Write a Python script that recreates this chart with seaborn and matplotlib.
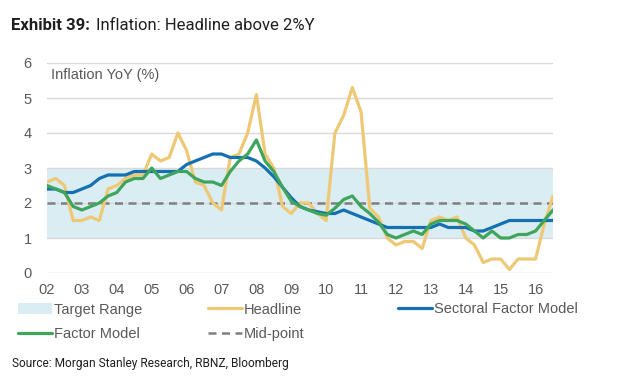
import matplotlib
matplotlib.use("Agg")
import matplotlib.pyplot as plt
from matplotlib.lines import Line2D
from matplotlib.patches import Patch
import seaborn as sns
import numpy as np
import pandas as pd

# Quarterly YoY inflation, 2002Q1 .. 2016Q3
headline = [2.6, 2.7, 2.5, 1.5, 1.5, 1.6, 1.5, 2.4, 2.5, 2.7, 2.8, 2.8,
            3.4, 3.2, 3.3, 4.0, 3.5, 2.6, 2.5, 2.0, 1.8, 3.3, 3.4, 4.0,
            5.1, 3.4, 3.0, 1.9, 1.7, 2.0, 2.0, 1.7, 1.5, 4.0, 4.5, 5.3,
            4.6, 1.85, 1.6, 1.0, 0.8, 0.9, 0.9, 0.7, 1.5, 1.6, 1.5, 1.6,
            1.0, 0.8, 0.3, 0.4, 0.4, 0.1, 0.4, 0.4, 0.4, 1.4, 2.2]
sectoral = [2.4, 2.4, 2.3, 2.3, 2.4, 2.5, 2.7, 2.8, 2.8, 2.8, 2.9, 2.9,
            2.9, 2.9, 2.9, 2.9, 3.1, 3.2, 3.3, 3.4, 3.4, 3.3, 3.3, 3.3,
            3.2, 3.0, 2.75, 2.45, 2.15, 1.9, 1.8, 1.75, 1.7, 1.7, 1.8, 1.7,
            1.6, 1.5, 1.4, 1.3, 1.3, 1.3, 1.3, 1.3, 1.3, 1.4, 1.3, 1.3,
            1.3, 1.2, 1.2, 1.3, 1.4, 1.5, 1.5, 1.5, 1.5, 1.5, 1.5]
factor = [2.5, 2.4, 2.3, 1.9, 1.8, 1.9, 2.0, 2.2, 2.3, 2.6, 2.7, 2.7,
          3.0, 2.7, 2.8, 2.9, 2.9, 2.7, 2.6, 2.6, 2.5, 2.9, 3.2, 3.4,
          3.8, 3.2, 2.9, 2.45, 2.05, 1.9, 1.8, 1.7, 1.65, 1.85, 2.1, 2.2,
          1.9, 1.7, 1.45, 1.1, 1.0, 1.1, 1.2, 1.1, 1.4, 1.5, 1.5, 1.5,
          1.4, 1.2, 1.0, 1.2, 1.0, 1.0, 1.1, 1.1, 1.2, 1.5, 1.8]
target_low, target_high, mid_point = 1, 3, 2
year_ticks = list(range(2002, 2017))
year_labels = [f"{y % 100:02d}" for y in year_ticks]

quarters = 2002 + 0.25 * np.arange(len(headline))
df = pd.DataFrame({"date": quarters, "Headline": headline,
                   "Sectoral Factor Model": sectoral, "Factor Model": factor})

c_band = "#daedf3"
c_head = "#efc875"
c_sect = "#1470b0"
c_fact = "#40a55c"
c_mid = "#7f7f7f"
c_text = "#595959"

sns.set_theme(style="white")
plt.rcParams["font.family"] = ["Liberation Sans", "DejaVu Sans"]
title_font = ["Roboto", "DejaVu Sans"]

fig = plt.figure(figsize=(6.18, 3.87), dpi=100)
ax = fig.add_axes([47 / 618, 1 - 273 / 387, (553 - 47) / 618, (273 - 63) / 387])

ax.axhspan(target_low, target_high, color=c_band, lw=0, zorder=0.3)
ax.axhline(mid_point, color=c_mid, lw=1.8, ls=(0, (3.2, 2.2)), zorder=2)
sns.lineplot(data=df, x="date", y="Headline", color=c_head, lw=2.3, ax=ax, zorder=3)
sns.lineplot(data=df, x="date", y="Sectoral Factor Model", color=c_sect, lw=2.3, ax=ax, zorder=4)
sns.lineplot(data=df, x="date", y="Factor Model", color=c_fact, lw=2.3, ax=ax, zorder=5)

ax.set_xlim(quarters[0], quarters[-1])
ax.set_ylim(0, 6)
ax.set_yticks(range(0, 7))
ax.set_xticks(year_ticks)
ax.set_xticklabels(year_labels)
ax.set_xlabel("")
ax.set_ylabel("")
ax.yaxis.grid(True, color="#d9d9d9", lw=1)
ax.set_axisbelow(True)
for side in ["left", "right", "top", "bottom"]:
    ax.spines[side].set_visible(False)
ax.tick_params(axis="both", length=0, labelsize=10.5, labelcolor=c_text)
ax.tick_params(axis="y", pad=11)
ax.tick_params(axis="x", pad=7)
ax.text(0.008, 0.945, "Inflation YoY (%)", transform=ax.transAxes,
        fontsize=10.5, color=c_text, va="center", ha="left")

# title
fig.text(11 / 618, 1 - 30 / 387, "Exhibit 39:", fontsize=12, fontweight="bold",
         family=title_font, color="#1f1f1f", va="baseline")
fig.text(96 / 618, 1 - 30 / 387, "Inflation: Headline above 2%Y", fontsize=12,
         family=title_font, color="#1f1f1f", va="baseline")

# legend, laid out in three columns
h_band = Patch(facecolor=c_band, edgecolor="none")
h_head = Line2D([], [], color=c_head, lw=2.3)
h_sect = Line2D([], [], color=c_sect, lw=2.3)
h_fact = Line2D([], [], color=c_fact, lw=2.3)
h_mid = Line2D([], [], color=c_mid, lw=1.8, ls=(0, (3.2, 2.2)))
columns = [([h_band, h_fact], ["Target Range", "Factor Model"], 18, 322),
           ([h_head, h_mid], ["Headline", "Mid-point"], 208, 322),
           ([h_sect], ["Sectoral Factor Model"], 398, 309)]
for handles, labels, x_px, y_px in columns:
    leg = fig.legend(handles, labels, loc="center left",
                     bbox_to_anchor=(x_px / 618, 1 - y_px / 387),
                     frameon=False, fontsize=10.5, handlelength=2.3,
                     handletextpad=0.15, labelspacing=0.75,
                     borderpad=0, borderaxespad=0)
    for t in leg.get_texts():
        t.set_color(c_text)

fig.text(12 / 618, 1 - 364 / 387, "Source: Morgan Stanley Research, RBNZ, Bloomberg",
         fontsize=8.6, family=title_font, color="#1f1f1f", va="center")

fig.savefig("out.png", dpi=100)
plt.close(fig)
